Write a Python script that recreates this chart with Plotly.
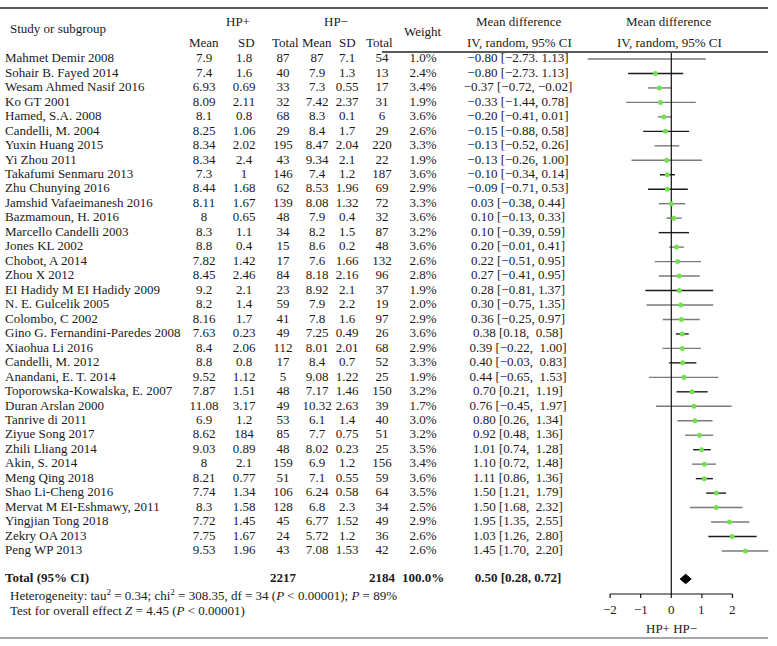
import plotly.graph_objects as go

# ---------------- data ----------------
studies = ["Mahmet Demir 2008", "Sohair B. Fayed 2014", "Wesam Ahmed Nasif 2016", "Ko GT 2001",
           "Hamed, S.A. 2008", "Candelli, M. 2004", "Yuxin Huang 2015", "Yi Zhou 2011",
           "Takafumi Senmaru 2013", "Zhu Chunying 2016", "Jamshid Vafaeimanesh 2016", "Bazmamoun, H. 2016",
           "Marcello Candelli 2003", "Jones KL 2002", "Chobot, A 2014", "Zhou X 2012",
           "EI Hadidy M EI Hadidy 2009", "N. E. Gulcelik 2005", "Colombo, C 2002",
           "Gino G. Fernandini-Paredes 2008", "Xiaohua Li 2016", "Candelli, M. 2012", "Anandani, E. T. 2014",
           "Toporowska-Kowalska, E. 2007", "Duran Arslan 2000", "Tanrive di 2011", "Ziyue Song 2017",
           "Zhili Lliang 2014", "Akin, S. 2014", "Meng Qing 2018", "Shao Li-Cheng 2016",
           "Mervat M EI-Eshmawy, 2011", "Yingjian Tong 2018", "Zekry OA 2013", "Peng WP 2013"]
pos_mean = ["7.9", "7.4", "6.93", "8.09", "8.1", "8.25", "8.34", "8.34", "7.3", "8.44", "8.11", "8",
            "8.3", "8.8", "7.82", "8.45", "9.2", "8.2", "8.16", "7.63", "8.4", "8.8", "9.52", "7.87",
            "11.08", "6.9", "8.62", "9.03", "8", "8.21", "7.74", "8.3", "7.72", "7.75", "9.53"]
pos_sd = ["1.8", "1.6", "0.69", "2.11", "0.8", "1.06", "2.02", "2.4", "1", "1.68", "1.67", "0.65",
          "1.1", "0.4", "1.42", "2.46", "2.1", "1.4", "1.7", "0.23", "2.06", "0.8", "1.12", "1.51",
          "3.17", "1.2", "184", "0.89", "2.1", "0.77", "1.34", "1.58", "1.45", "1.67", "1.96"]
pos_n = ["87", "40", "33", "32", "68", "29", "195", "43", "146", "62", "139", "48", "34", "15", "17",
         "84", "23", "59", "41", "49", "112", "17", "5", "48", "49", "53", "85", "48", "159", "51",
         "106", "128", "45", "24", "43"]
neg_mean = ["87", "7.9", "7.3", "7.42", "8.3", "8.4", "8.47", "9.34", "7.4", "8.53", "8.08", "7.9",
            "8.2", "8.6", "7.6", "8.18", "8.92", "7.9", "7.8", "7.25", "8.01", "8.4", "9.08", "7.17",
            "10.32", "6.1", "7.7", "8.02", "6.9", "7.1", "6.24", "6.8", "6.77", "5.72", "7.08"]
neg_sd = ["7.1", "1.3", "0.55", "2.37", "0.1", "1.7", "2.04", "2.1", "1.2", "1.96", "1.32", "0.4",
          "1.5", "0.2", "1.66", "2.16", "2.1", "2.2", "1.6", "0.49", "2.01", "0.7", "1.22", "1.46",
          "2.63", "1.4", "0.75", "0.23", "1.2", "0.55", "0.58", "2.3", "1.52", "1.2", "1.53"]
neg_n = ["54", "13", "17", "31", "6", "29", "220", "22", "187", "69", "72", "32", "87", "48", "132",
         "96", "37", "19", "97", "26", "68", "52", "25", "150", "39", "40", "51", "25", "156", "59",
         "64", "34", "49", "36", "42"]
weights = ["1.0%", "2.4%", "3.4%", "1.9%", "3.6%", "2.6%", "3.3%", "1.9%", "3.6%", "2.9%", "3.3%",
           "3.6%", "3.2%", "3.6%", "2.6%", "2.8%", "1.9%", "2.0%", "2.9%", "3.6%", "2.9%", "3.3%",
           "1.9%", "3.2%", "1.7%", "3.0%", "3.2%", "3.5%", "3.4%", "3.6%", "3.5%", "2.5%", "2.9%",
           "2.6%", "2.6%"]
md_text = ["−0.80 [−2.73. 1.13]", "−0.80 [−2.73. 1.13]", "−0.37 [−0.72, −0.02]", "−0.33 [−1.44, 0.78]",
           "−0.20 [−0.41, 0.01]", "−0.15 [−0.88, 0.58]", "−0.13 [−0.52, 0.26]", "−0.13 [−0.26, 1.00]",
           "−0.10 [−0.34, 0.14]", "−0.09 [−0.71, 0.53]", "0.03 [−0.38, 0.44]", "0.10 [−0.13, 0.33]",
           "0.10 [−0.39, 0.59]", "0.20 [−0.01, 0.41]", "0.22 [−0.51, 0.95]", "0.27 [−0.41, 0.95]",
           "0.28 [−0.81, 1.37]", "0.30 [−0.75, 1.35]", "0.36 [−0.25, 0.97]", "0.38 [0.18,  0.58]",
           "0.39 [−0.22,  1.00]", "0.40 [−0.03,  0.83]", "0.44 [−0.65,  1.53]", "0.70 [0.21,  1.19]",
           "0.76 [−0.45,  1.97]", "0.80 [0.26,  1.34]", "0.92 [0.48,  1.36]", "1.01 [0.74,  1.28]",
           "1.10 [0.72,  1.48]", "1.11 [0.86,  1.36]", "1.50 [1.21,  1.79]", "1.50 [1.68,  2.32]",
           "1.95 [1.35,  2.55]", "1.03 [1.26,  2.80]", "1.45 [1.70,  2.20]"]

# plotted estimates and intervals
plot_md = [None, -0.52, -0.39, -0.35, -0.24, -0.19, None, -0.15, -0.13, -0.13, 0.0, 0.08,
           None, 0.17, 0.21, 0.26, 0.26, 0.31, 0.33, 0.36, 0.36, 0.37, 0.41, 0.68,
           0.74, 0.77, 0.92, 0.99, 1.08, 1.08, 1.47, 1.47, 1.90, 1.99, 2.42]
plot_lo = [-2.73, -1.41, -0.76, -1.48, -0.44, -0.92, -0.55, -1.30, -0.37, -0.76, -0.41, -0.16,
           -0.41, -0.07, -0.54, -0.41, -0.85, -0.81, -0.28, 0.15, -0.29, -0.07, -0.73, 0.17,
           -0.50, 0.20, 0.45, 0.71, 0.68, 0.80, 1.14, 0.61, 1.30, 1.21, 1.65]
plot_hi = [1.13, 0.39, 0.0, 0.80, 0.0, 0.58, 0.26, 1.00, 0.12, 0.54, 0.46, 0.34,
           0.58, 0.41, 0.97, 0.93, 1.37, 1.37, 0.93, 0.57, 0.97, 0.82, 1.54, 1.19,
           1.97, 1.35, 1.37, 1.29, 1.46, 1.36, 1.79, 2.33, 2.55, 2.79, 3.17]
dark_line = [False, True, False, False, False, True, False, False, True, True, False, False,
             True, False, False, False, True, False, False, True, False, True, False, True,
             False, False, False, True, False, True, True, False, False, True, False]

total_label = "Total (95% CI)"
total_pos_n = "2217"
total_neg_n = "2184"
total_weight = "100.0%"
total_md_text = "0.50 [0.28, 0.72]"
total_md, total_lo, total_hi = 0.47, 0.29, 0.65
tick_vals = [-2, -1, 0, 1, 2]
tick_text = ["−2", "−1", "0", "1", "2"]

# ---------------- layout helpers ----------------
W, H = 777, 646
ROW0, PITCH = 59.0, 14.47
def row_of(px):
    return (px - ROW0) / PITCH
def py(px):
    return 1 - px / H

n = len(studies)
rows = list(range(n))
total_row = row_of(579)
FONT = "Liberation Serif"
TXT = "#1a1a1a"

fig = go.Figure()

def text_col(xpx, texts, ys, pos="middle center", bold=False):
    fig.add_trace(go.Scatter(
        x=[xpx] * len(texts), y=ys, text=[f"<b>{t}</b>" if bold else t for t in texts],
        mode="text", textposition=pos, xaxis="x2", yaxis="y",
        textfont=dict(family=FONT, size=13, color=TXT), hoverinfo="skip", cliponaxis=False))

text_col(5, studies, rows, pos="middle right")
text_col(204, pos_mean, rows)
text_col(244, pos_sd, rows)
text_col(283, pos_n, rows)
text_col(317, neg_mean, rows)
text_col(347, neg_sd, rows)
text_col(382, neg_n, rows)
text_col(423, weights, rows)
text_col(518, md_text, rows)

# total row
text_col(5, [total_label], [total_row], pos="middle right", bold=True)
text_col(283, [total_pos_n], [total_row], bold=True)
text_col(382, [total_neg_n], [total_row], bold=True)
text_col(423, [total_weight], [total_row], bold=True)
text_col(518, [total_md_text], [total_row], bold=True)

# CI lines
for dark, col in [(False, "#7a7a7a"), (True, "#1a1a1a")]:
    xs, ys = [], []
    for i in rows:
        if dark_line[i] == dark:
            xs += [plot_lo[i], plot_hi[i], None]
            ys += [i, i, None]
    fig.add_trace(go.Scatter(x=xs, y=ys, mode="lines", line=dict(color=col, width=1.4),
                             xaxis="x", yaxis="y", hoverinfo="skip"))

# zero line
fig.add_trace(go.Scatter(x=[0, 0], y=[row_of(53), row_of(594)], mode="lines",
                         line=dict(color="#111", width=1.2), xaxis="x", yaxis="y", hoverinfo="skip"))

# points
px_, py_ = [], []
for i in rows:
    if plot_md[i] is not None:
        px_.append(plot_md[i]); py_.append(i)
fig.add_trace(go.Scatter(x=px_, y=py_, mode="markers",
                         marker=dict(color="#72e04e", size=5, line=dict(width=0)),
                         xaxis="x", yaxis="y", hoverinfo="skip"))

# diamond
hh = 4.7 / PITCH
fig.add_trace(go.Scatter(x=[total_lo, total_md, total_hi, total_md, total_lo],
                         y=[total_row, total_row - hh, total_row, total_row + hh, total_row],
                         mode="lines", fill="toself", fillcolor="black",
                         line=dict(color="black", width=1), xaxis="x", yaxis="y", hoverinfo="skip"))

shapes = []
# horizontal axis line and ticks
axis_y = 594
shapes.append(dict(type="line", xref="x", yref="paper", x0=tick_vals[0], x1=tick_vals[-1],
                   y0=py(axis_y), y1=py(axis_y), line=dict(color="#111", width=1.2)))
for t in tick_vals:
    shapes.append(dict(type="line", xref="x", yref="paper", x0=t, x1=t,
                       y0=py(axis_y), y1=py(axis_y + 4), line=dict(color="#111", width=1.2)))
# rules
shapes.append(dict(type="line", xref="x2", yref="paper", x0=0, x1=768, y0=py(8), y1=py(8),
                   line=dict(color="#222", width=1.3)))
shapes.append(dict(type="line", xref="x2", yref="paper", x0=382, x1=768, y0=py(52), y1=py(52),
                   line=dict(color="#222", width=1.3)))
shapes.append(dict(type="line", xref="x2", yref="paper", x0=0, x1=768, y0=py(638), y1=py(638),
                   line=dict(color="#888", width=1.3)))

ann = []
def A(x, ypx, text, xanchor="center", xref="x2", size=13):
    ann.append(dict(x=x, y=py(ypx), xref=xref, yref="paper", text=text, showarrow=False,
                    xanchor=xanchor, yanchor="middle", font=dict(family=FONT, size=size, color=TXT)))

# header
A(8, 29, "Study or subgroup", xanchor="left")
A(238, 21, "HP+")
A(336, 21, "HP−")
for x, t in [(204, "Mean"), (246, "SD"), (285, "Total"), (317, "Mean"), (347, "SD"), (379, "Total")]:
    A(x, 43, t)
A(423, 31, "Weight")
A(519, 21, "Mean difference")
A(519, 43, "IV, random, 95% CI")
A(669, 21, "Mean difference")
A(669, 43, "IV, random, 95% CI")

# footer
A(8, 595, "Heterogeneity: tau<sup>2</sup> = 0.34; chi<sup>2</sup> = 308.35, df = 34 (<i>P</i> < 0.00001); <i>P</i> = 89%",
  xanchor="left")
A(8, 610, "Test for overall effect <i>Z</i> = 4.45 (<i>P</i> < 0.00001)", xanchor="left")

# tick labels
for t, lab in zip(tick_vals, tick_text):
    A(t, 609, lab, xref="x")
A(0, 628, "HP+ HP−", xref="x")

x_lo_px, x_hi_px = 575.0, 775.0
zero_px, unit_px = 671.3, 30.6

fig.update_layout(
    width=W, height=H, margin=dict(l=0, r=0, t=0, b=0),
    paper_bgcolor="white", plot_bgcolor="rgba(0,0,0,0)", showlegend=False,
    font=dict(family=FONT, size=13, color=TXT),
    xaxis=dict(domain=[x_lo_px / W, x_hi_px / W],
               range=[(x_lo_px - zero_px) / unit_px, (x_hi_px - zero_px) / unit_px],
               visible=False, fixedrange=True),
    xaxis2=dict(domain=[0, 1], range=[0, W], visible=False, anchor="y", fixedrange=True),
    yaxis=dict(domain=[0, 1], range=[row_of(H), row_of(0)], visible=False, fixedrange=True),
    shapes=shapes, annotations=ann,
)

fig.write_html("out.html", config={"displayModeBar": False},
               post_script="document.body.style.margin='0px';document.body.style.overflow='hidden';")
